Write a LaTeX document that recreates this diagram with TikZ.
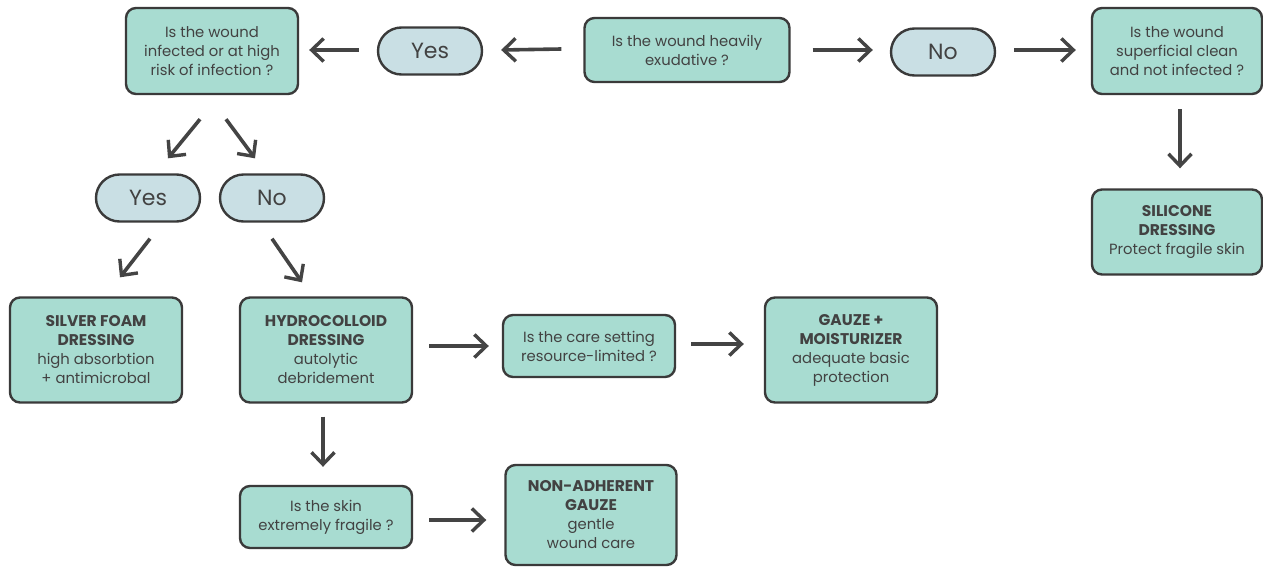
\documentclass[tikz,border=0pt]{standalone}
\usepackage{fontspec}
\setmainfont{Poppins}
\usetikzlibrary{arrows.meta,calc,shapes.misc}
\definecolor{boxfill}{HTML}{A8DCD1}
\definecolor{ovalfill}{HTML}{C9DFE4}
\definecolor{edge}{HTML}{3A3A3A}
\definecolor{txt}{HTML}{424242}
\newcommand{\ttl}[1]{{\fontsize{15.5}{19}\selectfont\bfseries #1}}
\tikzset{
  base/.style={draw=edge, line width=2.4pt, text=txt, align=center, inner sep=0pt, font=\fontsize{14.8}{19}\selectfont},
  qbox/.style={base, fill=boxfill, rounded corners=10pt, minimum width=172pt},
  rbox/.style={base, fill=boxfill, rounded corners=10pt, minimum width=172pt, minimum height=105pt},
  oval/.style={base, fill=ovalfill, rounded rectangle, minimum width=104pt, minimum height=47pt, font=\fontsize{22}{24}\selectfont},
  arr/.style={draw=edge!95!white, line width=3.6pt, -{Straight Barb[length=12pt,width=23pt,line width=3.4pt]}}
}
\begin{document}
\begin{tikzpicture}[x=1pt,y=1pt]
\fill[white] (0,0) rectangle (1263,-568);
\useasboundingbox (0,0) rectangle (1263,-568);
% nodes
\node[qbox, minimum width=205pt, minimum height=64pt] (q1) at (687,-50) {Is the wound heavily\\exudative ?};
\node[oval] (yes1) at (430,-51) {Yes};
\node[oval] (no1) at (943,-52) {No};
\node[qbox, minimum height=86pt] (q2) at (212,-51) {Is the wound\\infected or at high\\risk of infection ?};
\node[qbox, minimum width=170pt, minimum height=86pt] (q3) at (1177,-51) {Is the wound\\superficial clean\\and not infected ?};
\node[qbox, minimum width=170pt, minimum height=85pt] (sil) at (1177,-232) {\ttl{SILICONE}\\\ttl{DRESSING}\\Protect fragile skin};
\node[oval] (yes2) at (148,-198) {Yes};
\node[oval] (no2) at (272,-198) {No};
\node[rbox] (silver) at (96,-350) {\ttl{SILVER FOAM}\\\ttl{DRESSING}\\high absorbtion\\+ antimicrobal};
\node[rbox] (hydro) at (326,-350) {\ttl{HYDROCOLLOID}\\\ttl{DRESSING}\\autolytic\\debridement};
\node[qbox, minimum height=62pt] (care) at (589,-346) {Is the care setting\\resource-limited ?};
\node[rbox] (gauze) at (851,-350) {\ttl{GAUZE +}\\\ttl{MOISTURIZER}\\adequate basic\\protection};
\node[qbox, minimum height=62pt] (skin) at (326,-517) {Is the skin\\extremely fragile ?};
\node[rbox, minimum width=171pt, minimum height=100pt] (nonad) at (591,-515) {\ttl{NON-ADHERENT}\\\ttl{GAUZE}\\gentle\\wound care};
% arrows
\draw[arr] ([xshift=-22pt,yshift=1pt]q1.west) -- ([xshift=18pt,yshift=1pt]yes1.east);
\draw[arr] ([xshift=-18pt,yshift=1pt]yes1.west) -- ([xshift=10pt,yshift=1pt]q2.east);
\draw[arr] ([xshift=22pt]q1.east) -- ([xshift=-17pt,yshift=2pt]no1.west);
\draw[arr] ([xshift=18pt,yshift=2pt]no1.east) -- ([xshift=-15pt,yshift=1pt]q3.west);
\draw[arr] ([xshift=3pt,yshift=-14pt]q3.south) -- ([xshift=3pt,yshift=20pt]sil.north);
\draw[arr] ([xshift=-12pt,yshift=-24pt]q2.south) -- ([xshift=20pt,yshift=15pt]yes2.north);
\draw[arr] ([xshift=14pt,yshift=-24pt]q2.south) -- ([xshift=-17pt,yshift=15pt]no2.north);
\draw[arr] ([xshift=2pt,yshift=-16pt]yes2.south) -- ([xshift=24pt,yshift=19pt]silver.north);
\draw[arr] ([xshift=0pt,yshift=-16pt]no2.south) -- ([xshift=-24pt,yshift=14pt]hydro.north);
\draw[arr] ([xshift=16pt,yshift=4pt]hydro.east) -- ([xshift=-13pt,yshift=0pt]care.west);
\draw[arr] ([xshift=15pt,yshift=2pt]care.east) -- ([xshift=-20pt,yshift=6pt]gauze.west);
\draw[arr] ([xshift=-3pt,yshift=-13pt]hydro.south) -- ([xshift=-3pt,yshift=18pt]skin.north);
\draw[arr] ([xshift=16pt,yshift=-3pt]skin.east) -- ([xshift=-18pt,yshift=-5pt]nonad.west);
\end{tikzpicture}
\end{document}
